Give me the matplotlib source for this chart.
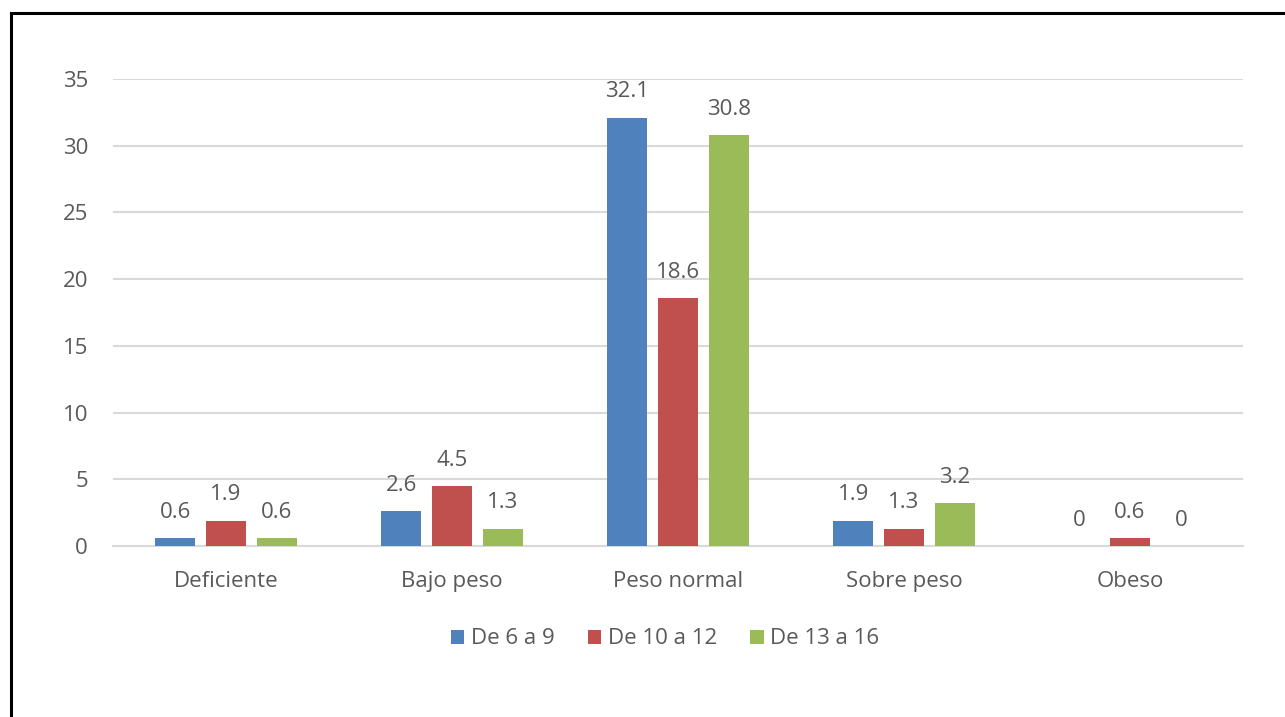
import matplotlib
matplotlib.use("Agg")
import matplotlib.pyplot as plt
import numpy as np

categories = ["Deficiente", "Bajo peso", "Peso normal", "Sobre peso", "Obeso"]
series_names = ["De 6 a 9", "De 10 a 12", "De 13 a 16"]
de_6_a_9 = [0.6, 2.6, 32.1, 1.9, 0]
de_10_a_12 = [1.9, 4.5, 18.6, 1.3, 0.6]
de_13_a_16 = [0.6, 1.3, 30.8, 3.2, 0]
y_ticks = [0, 5, 10, 15, 20, 25, 30, 35]

colors = ["#4f81bd", "#c0504d", "#9bbb59"]
text_color = "#595959"

plt.rcParams["font.family"] = ["Open Sans", "DejaVu Sans"]

fig = plt.figure(figsize=(12.85, 7.17), dpi=100)
ax = fig.add_axes([113 / 1285, 1 - 546 / 717, 1130 / 1285, 467 / 717])

x = np.arange(len(categories))
width = 0.175
pitch = 0.225
for i, (vals, name, c) in enumerate(zip([de_6_a_9, de_10_a_12, de_13_a_16], series_names, colors)):
    pos = x + (i - 1) * pitch
    ax.bar(pos, vals, width, color=c, label=name, zorder=3)
    for xi, v in zip(pos, vals):
        ax.annotate(f"{v:g}", (xi, v), xytext=(0, 11), textcoords="offset points",
                    ha="center", va="bottom", fontsize=16, color=text_color)

ax.set_xlim(-0.5, len(categories) - 0.5)
ax.set_ylim(0, 35)
ax.set_yticks(y_ticks)
ax.set_xticks(x)
ax.set_xticklabels(categories)
ax.tick_params(axis="both", length=0, labelsize=16, colors=text_color)
ax.tick_params(axis="y", pad=18)
ax.tick_params(axis="x", pad=18)
ax.yaxis.grid(True, color="#d9d9d9", linewidth=1.5, zorder=0)
for s in ["top", "right", "left"]:
    ax.spines[s].set_visible(False)
ax.spines["bottom"].set_color("#d9d9d9")
ax.spines["bottom"].set_linewidth(1.5)
ax.set_axisbelow(True)

leg = fig.legend(loc="center", bbox_to_anchor=(665 / 1285, 1 - 639 / 717), ncol=3,
                 frameon=False, fontsize=16, handlelength=0.6, handleheight=0.6,
                 handletextpad=0.3, columnspacing=1.5)
for t in leg.get_texts():
    t.set_color(text_color)

# frame lines on the left and top edges
fig.add_artist(plt.Line2D([10.5 / 1285, 10.5 / 1285], [0, 1 - 13 / 717], color="black", linewidth=2.2))
fig.add_artist(plt.Line2D([10.5 / 1285, 1], [1 - 13 / 717, 1 - 13 / 717], color="black", linewidth=2.2))

fig.savefig("out.png", dpi=100)
